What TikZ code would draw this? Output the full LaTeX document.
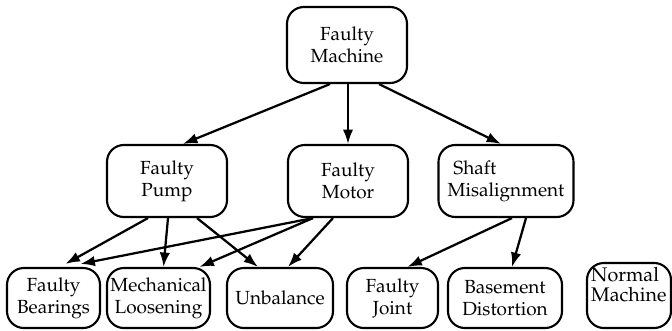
\documentclass[tikz,border=0pt]{standalone}
\usepackage[T1]{fontenc}
\usepackage{mathpazo}
\usetikzlibrary{calc,arrows.meta}
\definecolor{ink}{HTML}{000000}
\tikzset{
  every node/.append style={font=\fontsize{13.5}{15.5}\selectfont},
  fault/.style={draw=ink, line width=1.5pt, rounded corners=12pt, align=center,
                inner sep=2pt, text=ink},
  upper/.style={fault, minimum width=3cm, minimum height=1.8cm},
  lower/.style={fault, minimum height=1.5cm},
  arr/.style={-{Latex[length=3.6mm,width=2.6mm]}, line width=1.6pt, draw=ink},
}
\begin{document}
\begin{tikzpicture}[x=0.025cm,y=-0.025cm]
  \useasboundingbox (0,0) rectangle (672,330);
  % top and middle layer
  \node[upper, minimum height=1.9cm] (machine) at (347,45) {Faulty\\Machine};
  \node[upper] (pump)  at (167,181) {Faulty\\Pump};
  \node[upper] (motor) at (348,181) {Faulty\\Motor};
  \node[upper, minimum width=3.375cm, align=left] (shaft) at (506,181) {\hspace{0.3em}Shaft\\Misalignment};
  % bottom layer
  \foreach \nm/\cx/\bw/\txt in
     {bear/53.5/2.325/{Faulty\\Bearings},
      mech/158.5/2.575/{Mechanical\\Loosening},
      unbal/280/2.65/{Unbalance},
      joint/392.5/2.275/{Faulty\\Joint},
      base/505/2.85/{Basement\\Distortion}}{
     \node[lower, minimum width=\bw cm] (\nm) at (\cx,298) {\txt};
  }
  \node[fault, minimum width=2.1cm, minimum height=1.625cm] (normal) at (629,295.5) {};
  \node[anchor=north west, inner sep=0pt, align=left, font=\fontsize{14}{14}\selectfont]
    (normaltxt) at ($(normal.north west)+(5,5)$) {Normal\\Machine};
  % connectors
  \draw[arr] ($(machine.south)+(-17,0)$) -- ($(pump.north)+(16,0)$);
  \draw[arr] ($(machine.south)+(1,0)$) -- (motor.north);
  \draw[arr] ($(machine.south)+(32,0)$) -- ($(shaft.north)+(-5,0)$);
  \draw[arr] ($(pump.south)+(-19,0)$) -- ($(bear.north)+(12,-3)$);
  \draw[arr] ($(pump.south)+(1,0)$) -- ($(mech.north)+(5,0)$);
  \draw[arr] ($(pump.south)+(30,0)$) -- ($(unbal.north)+(-22,0)$);
  \draw[arr] ($(motor.south)+(-35,0)$) -- ($(bear.north)+(27,-3)$);
  \draw[arr] ($(motor.south)+(-35,0)$) -- ($(mech.north)+(41,0)$);
  \draw[arr] ($(motor.south)+(-15,0)$) -- ($(unbal.north)+(8,0)$);
  \draw[arr] ($(shaft.south)+(6,0)$) -- ($(joint.north)+(15,0)$);
  \draw[arr] ($(shaft.south)+(20,0)$) -- ($(base.north)+(7,0)$);
\end{tikzpicture}
\end{document}
